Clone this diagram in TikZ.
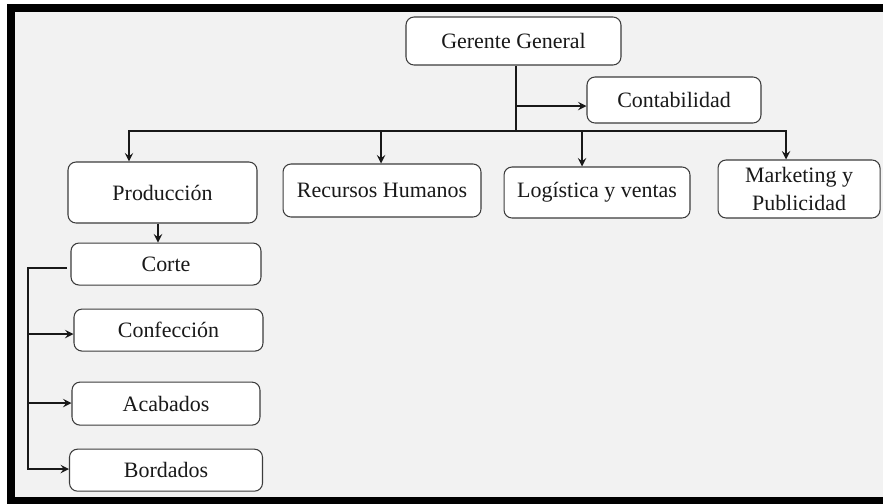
\documentclass[tikz,border=0pt]{standalone}
\usepackage{fontspec}
\setmainfont{Liberation Serif}
\usetikzlibrary{positioning, arrows}
\definecolor{panel}{RGB}{242,242,242}
\definecolor{boxline}{RGB}{60,60,60}
\tikzset{unit/.style={rectangle, rounded corners=0.16cm, draw=boxline, line width=0.6pt, fill=white, text=black!90, font=\fontsize{12.5}{15.5}\selectfont, text centered, inner sep=2pt},
         branch/.style={line width=1.1pt, draw=black!90},
         every arrow/.style={thick,>=stealth}}

\begin{document}
\begin{tikzpicture}[x=0.02cm, y=-0.02cm, >=stealth]
        \useasboundingbox (0,0) rectangle (883,504);
        \fill[white] (0,0) rectangle (883,504);
        \fill[black] (7,4) rectangle (883,504);
        \fill[panel] (15,12) rectangle (883,497);

        \node (gerente)[unit, minimum width=4.3cm, minimum height=0.96cm] at (513.5,41) {Gerente General};
        \node (contabilidad)[unit, minimum width=3.48cm, minimum height=0.92cm] at (674,100) {Contabilidad};

        \node (produccion)[unit, minimum width=3.78cm, minimum height=1.22cm] at (162.5,192.5) {Producción};
        \node (recursos)[unit, minimum width=3.96cm, minimum height=1.06cm, right=0.5cm of produccion, yshift=0.04cm] {Recursos Humanos};
        \node (logistica)[unit, minimum width=3.72cm, minimum height=1.02cm, right=0.44cm of recursos, yshift=-0.04cm] {Logística y ventas};
        \node (marketing)[unit, minimum width=3.24cm, minimum height=1.16cm, right=0.54cm of logistica, yshift=0.07cm, align=center] {Marketing y\\Publicidad};

        \coordinate (bus) at (516,131);
        \coordinate (split) at (516,106);
        \draw [branch] (bus |- gerente.south) -- (bus);
        \draw [branch, ->] (split) -- (split -| contabilidad.west);
        \draw [branch, ->] (bus) -| ([xshift=-0.67cm]produccion.north);
        \draw [branch, ->] (bus) -| ([xshift=-0.02cm]recursos.north);
        \draw [branch, ->] (bus) -| ([xshift=-0.3cm]logistica.north);
        \draw [branch, ->] (bus) -| ([xshift=-0.26cm]marketing.north);

        \node (corte)[unit, minimum width=3.8cm, minimum height=0.84cm, below=0.38cm of produccion, xshift=0.07cm] {Corte};
        \draw [branch, ->] ([xshift=-0.09cm]produccion.south) -- ++(0,-0.38cm);
        \node (confeccion)[unit, minimum width=3.78cm, minimum height=0.84cm, below=0.46cm of corte, xshift=0.05cm] {Confección};
        \node (acabados)[unit, minimum width=3.76cm, minimum height=0.86cm, below=0.6cm of confeccion, xshift=-0.05cm] {Acabados};
        \node (bordados)[unit, minimum width=3.86cm, minimum height=0.84cm, below=0.46cm of acabados] {Bordados};

        \coordinate (cutend) at (67,268);
        \coordinate (railtop) at (28,268);
        \coordinate (railend) at (28,469);
        \coordinate (railconf) at (28,334);
        \coordinate (railacab) at (28,403);
        \draw [branch, ->] (cutend) -- (railtop) -- (railend) -- (railend -| bordados.west);
        \draw [branch, ->] (railconf) -- (railconf -| confeccion.west);
        \draw [branch, ->] (railacab) -- (railacab -| acabados.west);
    \end{tikzpicture}
\end{document}
